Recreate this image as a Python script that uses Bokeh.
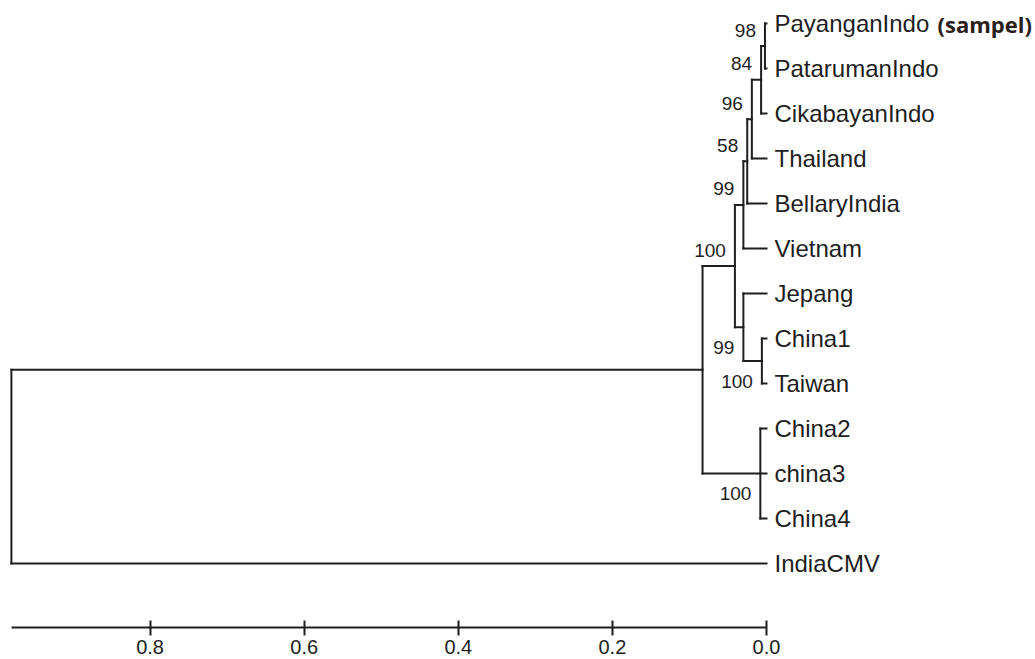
from bokeh.plotting import figure
from bokeh.models import Range1d, ColumnDataSource, FixedTicker
from bokeh.embed import file_html
from bokeh.resources import INLINE
from bokeh.core.properties import value

# ---- data -------------------------------------------------------------
leaves = ["PayanganIndo", "PatarumanIndo", "CikabayanIndo", "Thailand",
          "BellaryIndia", "Vietnam", "Jepang", "China1", "Taiwan",
          "China2", "china3", "China4", "IndiaCMV"]

node_ids = ["n98", "n84", "n96", "n58", "n99a", "n100a", "n99b", "n100b",
            "nchina", "nmid", "root"]
node_children = [["PayanganIndo", "PatarumanIndo"],
                 ["n98", "CikabayanIndo"],
                 ["n84", "Thailand"],
                 ["n96", "BellaryIndia"],
                 ["n58", "Vietnam"],
                 ["n99a", "n99b"],
                 ["Jepang", "n100b"],
                 ["China1", "Taiwan"],
                 ["China2", "china3", "China4"],
                 ["n100a", "nchina"],
                 ["nmid", "IndiaCMV"]]
node_heights = [0.002, 0.007, 0.019, 0.025, 0.030, 0.041, 0.030, 0.006,
                0.008, 0.083, 0.980]
node_support = ["98", "84", "96", "58", "99", "100", "99", "100", "100", "", ""]

tick_values = [0.0, 0.2, 0.4, 0.6, 0.8]
tick_labels = ["0.0", "0.2", "0.4", "0.6", "0.8"]
sample_note = "(sampel)"

# ---- layout of the tree ---------------------------------------------
children_of = dict(zip(node_ids, node_children))
height_of = dict(zip(node_ids, node_heights))
pos_x = {}
pos_y = {}
for i, name in enumerate(leaves):
    pos_x[name] = 0.0
    pos_y[name] = float(i)


def place(n):
    if n in pos_y:
        return pos_y[n]
    ch = children_of[n]
    ys = [place(c) for c in ch]
    pos_x[n] = height_of[n]
    pos_y[n] = (ys[0] + ys[-1]) / 2.0
    return pos_y[n]


for nid in node_ids:
    place(nid)

x0, y0, x1, y1 = [], [], [], []
parent_of = {}
for nid, ch in zip(node_ids, node_children):
    x0.append(pos_x[nid]); y0.append(pos_y[ch[0]])
    x1.append(pos_x[nid]); y1.append(pos_y[ch[-1]])
    for c in ch:
        parent_of[c] = nid
        x0.append(pos_x[nid]); y0.append(pos_y[c])
        x1.append(pos_x[c]); y1.append(pos_y[c])

# support labels: above branch for the upper child, below for the lower child
sup_up = {"x": [], "y": [], "t": []}
sup_dn = {"x": [], "y": [], "t": []}
for nid, ch, s in zip(node_ids, node_children, node_support):
    if not s:
        continue
    par = parent_of.get(nid)
    upper = par is None or children_of[par][0] == nid
    d = sup_up if upper else sup_dn
    d["x"].append(pos_x[nid]); d["y"].append(pos_y[nid]); d["t"].append(s)

# ---- figure -----------------------------------------------------------
W, H = 1035, 659
frame_bottom = 627.0      # axis line (px from figure top)
leaf_top = 23.0           # first leaf (px from figure top)
leaf_step = 45.0
px_per_unit = 770.5
zero_px = 766.0           # x=0 position (px from figure left)

p = figure(width=W, height=H, output_backend="svg", toolbar_location=None,
           x_range=Range1d(zero_px / px_per_unit, (zero_px - W) / px_per_unit),
           y_range=Range1d((frame_bottom - leaf_top) / leaf_step,
                           -leaf_top / leaf_step),
           y_axis_location=None, min_border_left=0, min_border_right=0,
           min_border_top=0, min_border_bottom=int(H - frame_bottom))
p.grid.visible = False
p.outline_line_color = None
p.background_fill_color = "white"
p.border_fill_color = "white"

line_col = "#1e1e1e"
text_col = "#1e1e1e"

p.segment(x0="x0", y0="y0", x1="x1", y1="y1",
          source=ColumnDataSource(dict(x0=x0, y0=y0, x1=x1, y1=y1)),
          line_color=line_col, line_width=2, line_cap="square")

p.text(x=[pos_x[n] for n in leaves], y=[pos_y[n] for n in leaves], text=leaves,
       x_offset=8, text_baseline="middle", text_align="left",
       text_font=value("Liberation Sans"), text_font_size="24px",
       text_color=text_col)

p.text(x=[pos_x[leaves[0]]], y=[pos_y[leaves[0]]], text=[sample_note],
       x_offset=171, text_baseline="middle", text_align="left",
       text_font=value("Open Sans"), text_font_style="bold",
       text_font_size="22px", text_color="#2a2018")

p.text(x=sup_up["x"], y=sup_up["y"], text=sup_up["t"], x_offset=-9, y_offset=-16,
       text_baseline="middle", text_align="right",
       text_font=value("Liberation Sans"), text_font_size="19px",
       text_color=text_col)
p.text(x=sup_dn["x"], y=sup_dn["y"], text=sup_dn["t"], x_offset=-9, y_offset=20,
       text_baseline="middle", text_align="right",
       text_font=value("Liberation Sans"), text_font_size="19px",
       text_color=text_col)

ax = p.xaxis[0]
ax.ticker = FixedTicker(ticks=tick_values)
ax.major_label_overrides = {v: l for v, l in zip(tick_values, tick_labels)}
ax.bounds = (0.0, node_heights[-1])
ax.axis_line_width = 2
ax.axis_line_color = line_col
ax.major_tick_line_width = 2
ax.major_tick_line_color = line_col
ax.major_tick_in = 7
ax.major_tick_out = 8
ax.minor_tick_line_color = None
ax.major_label_standoff = 4
ax.major_label_text_font = "Liberation Sans"
ax.major_label_text_font_size = "20px"
ax.major_label_text_color = text_col

open("out.html", "w").write(file_html(p, INLINE))
